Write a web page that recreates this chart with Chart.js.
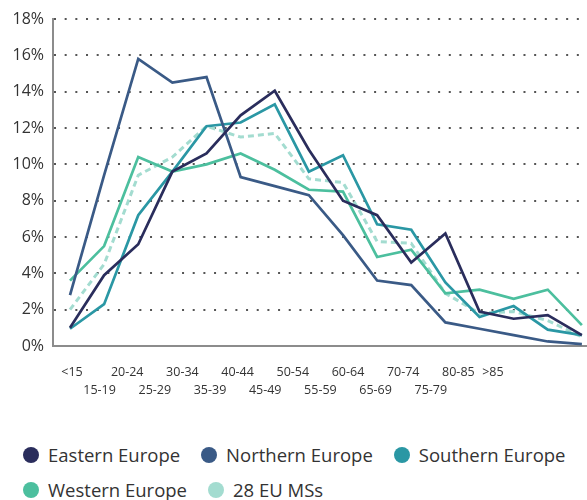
<!DOCTYPE html>
<html>
<head>
<meta charset="utf-8">
<script src="https://cdn.jsdelivr.net/npm/chart.js@4/dist/chart.umd.min.js"></script>
<style>
  html, body { margin: 0; padding: 0; background: #fff; overflow: hidden; }
  #wrap { position: relative; width: 587px; height: 428px; }
  #legend {
    width: 564px; padding: 9px 0 0 23px;
    display: flex; flex-wrap: wrap;
    font-family: 'Open Sans', sans-serif; font-size: 18.5px; color: #333;
  }
  #legend .item { display: flex; align-items: center; height: 35px; margin-right: 21px; white-space: nowrap; }
  #legend .dot { width: 16px; height: 16px; border-radius: 50%; margin-right: 9px; }
</style>
</head>
<body>
<div id="wrap"><canvas id="ageChart"></canvas></div>
<div id="legend"></div>
<script>
// --- data ---
const ageGroups = ['<15', '15-19', '20-24', '25-29', '30-34', '35-39', '40-44', '45-49',
                   '50-54', '55-59', '60-64', '65-69', '70-74', '75-79', '80-85', '>85'];
const eastern  = [1.0, 3.9, 5.6, 9.6, 10.6, 12.7, 14.05, 10.8, 8.0, 7.2, 4.6, 6.2, 1.9, 1.5, 1.7, 0.6];
const northern = [2.8, 9.4, 15.8, 14.5, 14.8, 9.3, 8.8, 8.3, 6.1, 3.6, 3.35, 1.3, 0.95, 0.6, 0.25, 0.1];
const southern = [0.95, 2.3, 7.2, 9.6, 12.1, 12.3, 13.3, 9.6, 10.5, 6.7, 6.4, 3.5, 1.6, 2.2, 0.9, 0.6];
const western  = [3.6, 5.5, 10.4, 9.6, 10.0, 10.6, 9.7, 8.6, 8.5, 4.9, 5.3, 2.9, 3.1, 2.6, 3.1, 1.15];
const eu28     = [2.0, 4.5, 9.4, 10.4, 12.1, 11.5, 11.7, 9.2, 9.0, 5.75, 5.65, 2.9, 1.8, 1.9, 1.4, 0.5];
const yTicks   = [0, 2, 4, 6, 8, 10, 12, 14, 16, 18];

const toPoints = arr => arr.map((v, i) => ({ x: i, y: v }));

function series(label, values, color, dashed) {
    return {
        label: label,
        data: toPoints(values),
        borderColor: color,
        backgroundColor: color,
        borderWidth: dashed ? 3 : 2.7,
        borderDash: dashed ? [6, 4] : [],
        pointRadius: 0,
        tension: 0,
        fill: false
    };
}

const textColor = '#333333';
const axisGray = '#8c8c8c';
const lastIdx = ageGroups.length - 1;

const chart = new Chart(document.getElementById('ageChart'), {
    type: 'line',
    data: {
        datasets: [
            series('Eastern Europe', eastern, '#2a2d5c', false),
            series('Northern Europe', northern, '#3a5a86', false),
            series('Southern Europe', southern, '#2a97a4', false),
            series('Western Europe', western, '#4cbf9e', false),
            series('28 EU MSs', eu28, '#a3dcd0', true)
        ]
    },
    options: {
        responsive: true,
        maintainAspectRatio: false,
        animation: false,
        layout: { padding: { top: 19, left: 0, right: 0, bottom: 0 } },
        plugins: {
            tooltip: { enabled: false },
            legend: { display: false }
        },
        scales: {
            x: {
                type: 'linear',
                position: 'bottom',
                min: -0.498,
                max: 15.15,
                grid: { display: false, drawTicks: false },
                border: { display: true, color: axisGray, width: 2 },
                ticks: { display: false },
                afterFit: s => { s.height = 0; }
            },
            // label axis: the age-group labels sit tighter than the points,
            // the open-ended last group gets a little extra room
            x2: {
                type: 'linear',
                position: 'bottom',
                min: -0.688,
                max: 18.66,
                grid: { display: false, drawTicks: false },
                border: { display: false },
                afterBuildTicks: s => {
                    s.ticks = ageGroups.map((g, i) => ({ value: i === lastIdx ? i + 0.25 : i }));
                },
                ticks: {
                    autoSkip: false,
                    maxRotation: 0,
                    padding: 17,
                    color: textColor,
                    font: { family: 'Open Sans', size: 12.5, lineHeight: 1.45 },
                    callback: (value, index) => {
                        const lower = index % 2 === 1 && index !== lastIdx;
                        return lower ? ['', ageGroups[index]] : ageGroups[index];
                    }
                },
                afterFit: s => { s.height = 82; }
            },
            y: {
                min: 0,
                max: 18,
                afterBuildTicks: s => { s.ticks = yTicks.map(v => ({ value: v })); },
                grid: {
                    drawTicks: false,
                    lineWidth: 2,
                    color: ctx => (ctx.tick && ctx.tick.value === 0 ? 'rgba(0,0,0,0)' : '#555555')
                },
                border: { display: true, color: axisGray, width: 2, dash: [2, 8.67] },
                ticks: {
                    padding: 9,
                    color: textColor,
                    font: { family: 'Open Sans', size: 16 },
                    callback: v => v + '%'
                },
                afterFit: s => { s.width = 53; }
            }
        }
    }
});

// --- HTML legend built from the chart's datasets ---
const legendBox = document.getElementById('legend');
chart.data.datasets.forEach(ds => {
    const item = document.createElement('div');
    item.className = 'item';
    const dot = document.createElement('span');
    dot.className = 'dot';
    dot.style.background = ds.borderColor;
    const txt = document.createElement('span');
    txt.textContent = ds.label;
    item.appendChild(dot);
    item.appendChild(txt);
    legendBox.appendChild(item);
});
</script>
</body>
</html>
